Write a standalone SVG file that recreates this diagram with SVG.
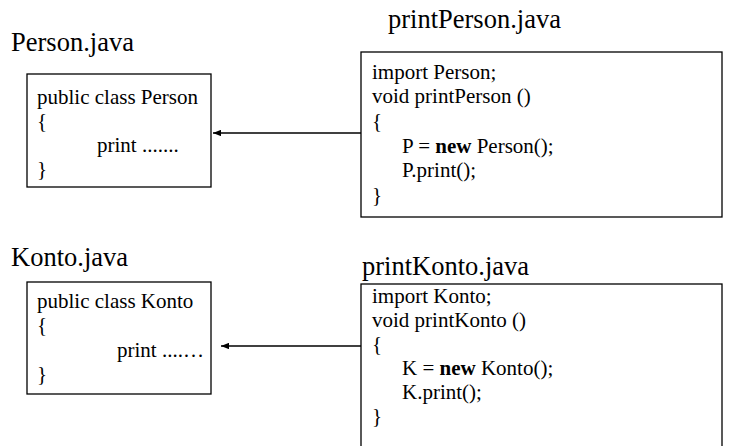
<svg xmlns="http://www.w3.org/2000/svg" width="735" height="446" viewBox="0 0 735 446">
  <defs>
    <marker id="arrow" viewBox="0 0 10 8" refX="10" refY="4" markerWidth="8" markerHeight="6.4" markerUnits="userSpaceOnUse" orient="auto">
      <path d="M0,0 L10,4 L0,8 Z" fill="#000000"/>
    </marker>
  </defs>
  <rect width="735" height="446" fill="#ffffff"/>

  <!-- Person class -->
  <g id="person">
    <text x="11" y="51" font-family="Liberation Serif" font-size="26.5">Person.java</text>
    <rect x="27" y="74" width="184" height="113" fill="#ffffff" stroke="#000000" stroke-width="1.3"/>
    <text x="37" y="104" font-family="Liberation Serif" font-size="21">public class Person</text>
    <text x="37" y="128" font-family="Liberation Serif" font-size="21">{</text>
    <text x="97" y="152" font-family="Liberation Serif" font-size="21">print .......</text>
    <text x="37" y="176" font-family="Liberation Serif" font-size="21">}</text>
  </g>

  <!-- printPerson caller -->
  <g id="printPerson">
    <text x="388" y="28" font-family="Liberation Serif" font-size="26.5">printPerson.java</text>
    <rect x="361" y="52" width="361" height="165" fill="#ffffff" stroke="#000000" stroke-width="1.3"/>
    <text x="372" y="79" font-family="Liberation Serif" font-size="21">import Person;</text>
    <text x="372" y="103" font-family="Liberation Serif" font-size="21">void printPerson ()</text>
    <text x="372" y="128" font-family="Liberation Serif" font-size="21">{</text>
    <text x="402" y="153" font-family="Liberation Serif" font-size="21">P = <tspan font-weight="bold">new</tspan> Person();</text>
    <text x="402" y="177" font-family="Liberation Serif" font-size="21">P.print();</text>
    <text x="372" y="202" font-family="Liberation Serif" font-size="21">}</text>
  </g>

  <!-- Konto class -->
  <g id="konto">
    <text x="11" y="266" font-family="Liberation Serif" font-size="26.5">Konto.java</text>
    <rect x="27" y="282" width="184" height="112" fill="#ffffff" stroke="#000000" stroke-width="1.3"/>
    <text x="37" y="308" font-family="Liberation Serif" font-size="21">public class Konto</text>
    <text x="37" y="332" font-family="Liberation Serif" font-size="21">{</text>
    <text x="117" y="357" font-family="Liberation Serif" font-size="21">print ....…</text>
    <text x="37" y="381" font-family="Liberation Serif" font-size="21">}</text>
  </g>

  <!-- printKonto caller -->
  <g id="printKonto">
    <text x="362" y="275" font-family="Liberation Serif" font-size="26.5">printKonto.java</text>
    <rect x="361" y="284" width="361" height="170" fill="#ffffff" stroke="#000000" stroke-width="1.3"/>
    <text x="372" y="303" font-family="Liberation Serif" font-size="21">import Konto;</text>
    <text x="372" y="327" font-family="Liberation Serif" font-size="21">void printKonto ()</text>
    <text x="372" y="351" font-family="Liberation Serif" font-size="21">{</text>
    <text x="402" y="375" font-family="Liberation Serif" font-size="21">K = <tspan font-weight="bold">new</tspan> Konto();</text>
    <text x="402" y="399" font-family="Liberation Serif" font-size="21">K.print();</text>
    <text x="372" y="423" font-family="Liberation Serif" font-size="21">}</text>
  </g>

  <!-- dependency arrows -->
  <g id="connectors" stroke="#000000" stroke-width="1.3" fill="none">
    <line x1="361" y1="133" x2="213" y2="133" marker-end="url(#arrow)"/>
    <line x1="361" y1="346" x2="221" y2="346" marker-end="url(#arrow)"/>
  </g>
</svg>
